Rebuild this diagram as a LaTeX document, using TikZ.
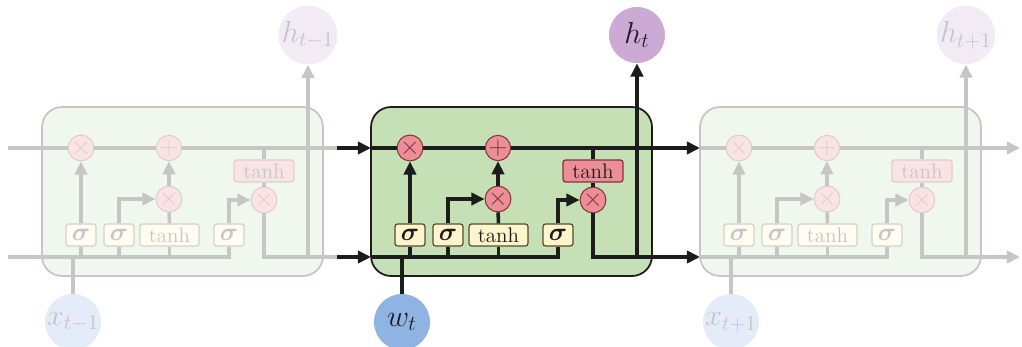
\documentclass[tikz,border=0pt]{standalone}
\usepackage{amsmath}
\definecolor{lstmgreen}{RGB}{197,224,180}
\definecolor{lstmpink}{RGB}{236,142,152}
\definecolor{lstmred}{RGB}{130,50,60}
\definecolor{lstmcream}{RGB}{255,244,204}
\definecolor{lstmbrown}{RGB}{90,74,48}
\definecolor{lstmpurple}{RGB}{204,170,214}
\definecolor{lstmblue}{RGB}{143,180,227}
\definecolor{lstmdark}{RGB}{28,28,28}
\newcommand\cellfade{100}
\usetikzlibrary{arrows.meta,positioning,calc}

\begin{document}
\begin{tikzpicture}[x=0.02cm,y=-0.02cm,
  cellbox/.style={draw=lstmdark!\cellfade!white,fill=lstmgreen!\cellfade!white,line width=1pt,
    rounded corners=0.4cm,minimum width=5.62cm,minimum height=3.38cm},
  opcirc/.style={circle,draw=lstmred!\cellfade!white,fill=lstmpink!\cellfade!white,line width=0.6pt,
    minimum size=0.42cm,inner sep=0pt,font=\Large,text=lstmred!\cellfade!white},
  gatebox/.style={draw=lstmbrown!\cellfade!white,fill=lstmcream!\cellfade!white,rounded corners=1.5pt,
    line width=0.7pt,minimum width=0.6cm,minimum height=0.44cm,inner sep=1pt,font=\large,
    text=lstmdark!\cellfade!white},
  actbox/.style={gatebox,draw=lstmred!\cellfade!white,fill=lstmpink!\cellfade!white,minimum width=1.2cm},
  iocirc/.style={circle,minimum size=1.12cm,inner sep=0pt,font=\LARGE,text=lstmdark!\cellfade!white},
  flow/.style={line width=2pt,draw=lstmdark!\cellfade!white},
  flowarrow/.style={flow,-{Triangle[length=7.5pt,width=7pt]}},
  faded/.style={draw=lstmdark!25!white}
]
  \useasboundingbox (0,0) rectangle (1022,347);
  % Cells (t-1, t, t+1)
  \foreach \dx/\cellfade/\inp/\outp/\c in {-329/25/x_{t-1}/h_{t-1}/a, 0/100/w_t/h_t/b, 329/25/x_{t+1}/h_{t+1}/c}{
    \begin{scope}[xshift=\dx*0.02cm]
      \node[cellbox] (\c-box) at (511.5,191.5) {};
      \coordinate (\c-ul) at (371,148);
      \coordinate (\c-ur) at (652,148);
      \coordinate (\c-ll) at (371,257);
      \coordinate (\c-lr) at (652,257);
      \coordinate (\c-hj) at (637,257);
      % Pointwise operations
      \node[opcirc] (\c-fx) at (410,148) {$\times$};
      \node[opcirc] (\c-ap) at (498,148) {$+$};
      \node[opcirc] (\c-ix) at (498,199) {$\times$};
      \node[opcirc] (\c-ox) at (593,200) {$\times$};
      \node[actbox] (\c-th) at (593,171) {tanh};
      % Gate layers
      \node[gatebox,font=\Large] (\c-sf) at (410,235) {$\boldsymbol{\sigma}$};
      \node[gatebox,font=\Large] (\c-si) at (448,235) {$\boldsymbol{\sigma}$};
      \node[gatebox,minimum width=1.18cm] (\c-sg) at (498.5,235) {tanh};
      \node[gatebox,font=\Large] (\c-so) at (558,235) {$\boldsymbol{\sigma}$};
      % Input and output
      \node[iocirc,fill=lstmblue!\cellfade!white] (\c-in) at (402,322) {$\inp$};
      \node[iocirc,fill=lstmpurple!\cellfade!white] (\c-out) at (637,35) {$\outp$};
      % Connections
      \draw[flow] (\c-ul) -- (\c-fx) -- (\c-ap) -- (\c-ur);
      \draw[flow] (\c-ll) -| (\c-so);
      \draw[flow] (\c-in) -- (\c-in |- \c-ll);
      \draw[flow] (\c-sf) -- (\c-sf |- \c-ll);
      \draw[flow] (\c-si) -- (\c-si |- \c-ll);
      \draw[flow] (\c-sg) -- (\c-sg |- \c-ll);
      \draw[flowarrow] (\c-sf) -- (\c-fx);
      \draw[flowarrow] (\c-si) |- (\c-ix);
      \draw[flow] (\c-sg) -- (\c-ix);
      \draw[flowarrow] (\c-ix) -- (\c-ap);
      \draw[flowarrow] (\c-so) |- (\c-ox);
      \draw[flow] (\c-ox) -- (\c-th);
      \draw[flow] (\c-th) -- (\c-th |- \c-ul);
      \draw[flow] (\c-ox) |- (\c-lr);
      \draw[flowarrow] (\c-hj) -- (\c-out);
    \end{scope}
  }
  % Links between cells
  \coordinate (u-start) at (8,148);
  \coordinate (l-start) at (8,257);
  \coordinate (u-join) at (337,148);
  \coordinate (l-join) at (337,257);
  \coordinate (u-end) at (1020,148);
  \coordinate (l-end) at (1020,257);
  \draw[flow,faded] (u-start) -- (a-ul);
  \draw[flow,faded] (l-start) -- (a-ll);
  \draw[flow,faded] (a-ur) -- (u-join);
  \draw[flow,faded] (a-lr) -- (l-join);
  \draw[flowarrow] (u-join) -- (b-ul);
  \draw[flowarrow] (l-join) -- (b-ll);
  \draw[flowarrow] (b-ur) -- (c-ul);
  \draw[flowarrow] (b-lr) -- (c-ll);
  \draw[flowarrow,faded] (c-ur) -- (u-end);
  \draw[flowarrow,faded] (c-lr) -- (l-end);
\end{tikzpicture}
\end{document}
